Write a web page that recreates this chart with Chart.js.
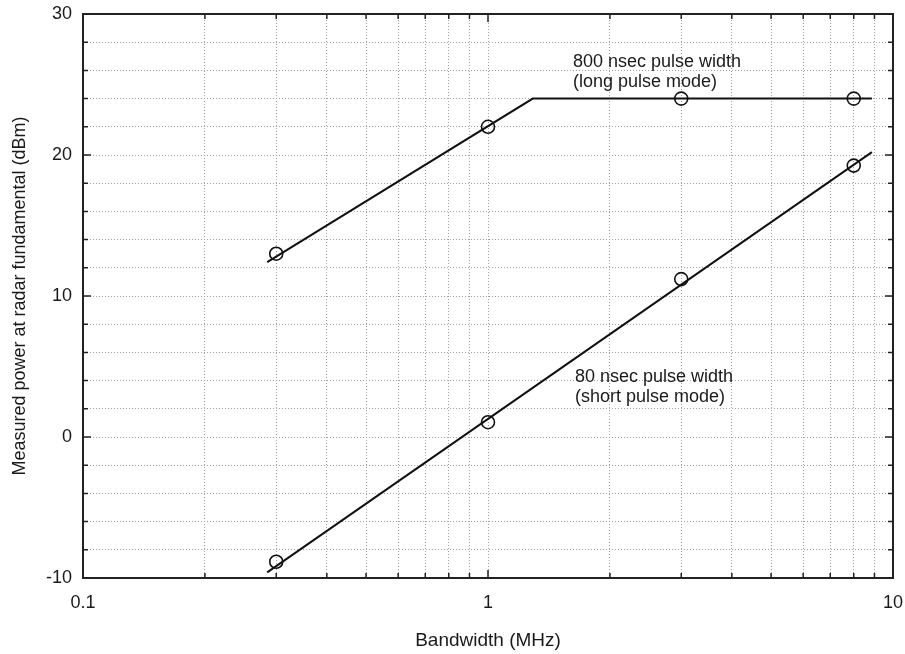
<!DOCTYPE html>
<html>
<head>
<meta charset="utf-8">
<script src="https://cdn.jsdelivr.net/npm/chart.js@4/dist/chart.umd.min.js"></script>
<style>
  html, body { margin: 0; padding: 0; background: #fff; }
  #chart { display: block; }
</style>
</head>
<body>
<canvas id="chart" width="905" height="654"></canvas>
<script>
// measured points
const bandwidthMHz = [0.3, 1, 3, 8];
const longPulseDbm = [13, 22, 24, 24];
const shortPulseDbm = [-8.85, 1.05, 11.2, 19.25];

// fitted lines drawn through the measurements
const longFitMHz = [0.285, 1.29, 8.87];
const longFitDbm = [12.4, 24, 24];
const shortFitMHz = [0.285, 8.87];
const shortFitDbm = [-9.6, 20.2];

// axis ticks
const xTickValues = [0.1, 0.2, 0.3, 0.4, 0.5, 0.6, 0.7, 0.8, 0.9, 1, 2, 3, 4, 5, 6, 7, 8, 9, 10];
const xTickLabels = ['0.1', '1', '10'];
const yTickLabels = ['-10', '0', '10', '20', '30'];

const noteLines = [
    ['800 nsec pulse width', '(long pulse mode)'],
    ['80 nsec pulse width', '(short pulse mode)']
];

const toPoints = (xs, ys) => xs.map((x, i) => ({ x: x, y: ys[i] }));

Chart.defaults.font.family = "'Liberation Sans', Arial, sans-serif";
Chart.defaults.font.size = 18;
Chart.defaults.color = '#1a1a1a';

// frame, inward tick marks and the two text notes
const framePlugin = {
    id: 'frame',
    afterDraw(chart) {
        const ctx = chart.ctx;
        const area = chart.chartArea;
        const xs = chart.scales.x;
        const ys = chart.scales.y;
        ctx.save();
        ctx.strokeStyle = '#222';
        ctx.lineWidth = 1.5;
        ctx.beginPath();
        xs.ticks.forEach(t => {
            const px = xs.getPixelForValue(t.value);
            const len = xTickLabels.includes(String(t.value)) ? 8 : 5;
            ctx.moveTo(px, area.bottom); ctx.lineTo(px, area.bottom - len);
            ctx.moveTo(px, area.top); ctx.lineTo(px, area.top + len);
        });
        ys.ticks.forEach(t => {
            const py = ys.getPixelForValue(t.value);
            const len = t.value % 10 === 0 ? 8 : 5;
            ctx.moveTo(area.left, py); ctx.lineTo(area.left + len, py);
            ctx.moveTo(area.right, py); ctx.lineTo(area.right - len, py);
        });
        ctx.stroke();
        ctx.lineWidth = 2;
        ctx.strokeRect(area.left, area.top, area.right - area.left, area.bottom - area.top);

        ctx.fillStyle = '#1a1a1a';
        ctx.font = "18px 'Liberation Sans', Arial, sans-serif";
        ctx.textBaseline = 'alphabetic';
        ctx.textAlign = 'left';
        const anchors = [{ x: 1.621, y: 26.24 }, { x: 1.64, y: 3.9 }];
        anchors.forEach((a, i) => {
            const px = xs.getPixelForValue(a.x);
            const py = ys.getPixelForValue(a.y);
            noteLines[i].forEach((line, j) => ctx.fillText(line, px, py + j * 20));
        });
        ctx.restore();
    }
};

const fitStyle = {
    borderColor: '#111',
    borderWidth: 2,
    pointRadius: 0,
    fill: false,
    tension: 0
};
const markStyle = {
    showLine: false,
    pointStyle: 'circle',
    pointRadius: 6.5,
    pointBorderWidth: 1.6,
    pointBorderColor: '#111',
    pointBackgroundColor: 'rgba(0,0,0,0)'
};

const gridStyle = { color: '#a0a0a0', lineWidth: 1, drawTicks: false };
const borderStyle = { display: true, color: '#222', width: 2, dash: [1, 2] };

const config = {
    type: 'line',
    data: {
        datasets: [
            Object.assign({ label: 'long fit', data: toPoints(longFitMHz, longFitDbm) }, fitStyle),
            Object.assign({ label: '800 nsec', data: toPoints(bandwidthMHz, longPulseDbm) }, markStyle),
            Object.assign({ label: 'short fit', data: toPoints(shortFitMHz, shortFitDbm) }, fitStyle),
            Object.assign({ label: '80 nsec', data: toPoints(bandwidthMHz, shortPulseDbm) }, markStyle)
        ]
    },
    options: {
        responsive: false,
        animation: false,
        layout: { padding: { top: 14, right: 12, left: 0, bottom: 0 } },
        plugins: { legend: { display: false }, tooltip: { enabled: false } },
        scales: {
            x: {
                type: 'logarithmic',
                min: 0.1,
                max: 10,
                grid: gridStyle,
                border: borderStyle,
                afterBuildTicks: scale => {
                    scale.ticks = xTickValues.map(v => ({ value: v }));
                },
                afterFit: scale => {
                    scale.height = 76;
                    scale.paddingLeft = 0;
                    scale.paddingRight = 0;
                },
                ticks: {
                    autoSkip: false,
                    maxRotation: 0,
                    padding: 14,
                    callback: v => xTickLabels.includes(String(v)) ? String(v) : ''
                },
                title: {
                    display: true,
                    text: 'Bandwidth (MHz)',
                    font: { size: 19 },
                    padding: { top: 0, bottom: 2 }
                }
            },
            y: {
                type: 'linear',
                min: -10,
                max: 30,
                grid: gridStyle,
                border: borderStyle,
                afterFit: scale => {
                    scale.width = 83;
                    scale.paddingTop = 0;
                    scale.paddingBottom = 0;
                },
                ticks: {
                    stepSize: 2,
                    padding: 11,
                    callback: v => yTickLabels.includes(String(v)) ? String(v) : ''
                },
                title: {
                    display: true,
                    text: 'Measured power at radar fundamental (dBm)',
                    font: { size: 18 },
                    padding: { top: 9, bottom: 0 }
                }
            }
        }
    },
    plugins: [framePlugin]
};

new Chart(document.getElementById('chart'), config);
</script>
</body>
</html>
